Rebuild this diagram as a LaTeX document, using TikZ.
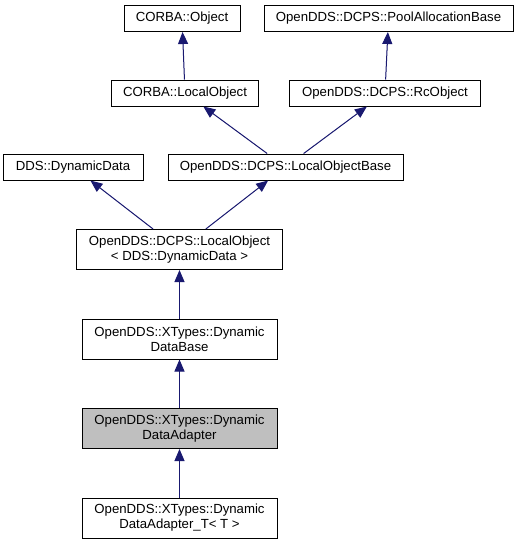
\documentclass[tikz,border=0pt]{standalone}
\usepackage{fontspec}
\setmainfont{Liberation Sans}
\usetikzlibrary{positioning, arrows.meta}
\definecolor{edge_blue}{RGB}{25,25,112}
\definecolor{self_grey}{RGB}{191,191,191}

\begin{document}
\begin{tikzpicture}[x=1pt, y=-1pt, >={Triangle[length=12pt, width=10pt]},
    classbox/.style={draw, rectangle, line width=1pt, align=center, inner sep=0pt,
        font=\fontsize{13.2}{15}\selectfont},
    inherit/.style={->, draw=edge_blue, fill=edge_blue, line width=1pt}]

    \useasboundingbox (0,0) rectangle (519,544);

    % --- Top row ---
    \node [classbox, minimum width=116pt, minimum height=26pt] (CorbaObject) at (182,18.5) {CORBA::Object};
    \node [classbox, minimum width=249pt, minimum height=26pt] (PoolAllocationBase) at (388.5,18.5) {OpenDDS::DCPS::PoolAllocationBase};

    % --- Second row ---
    \node [classbox, minimum width=147pt, minimum height=26pt] (CorbaLocalObject) at (185,93) {CORBA::LocalObject};
    \node [classbox, minimum width=191pt, minimum height=26pt] (RcObject) at (385,93) {OpenDDS::DCPS::RcObject};

    % --- Third row ---
    \node [classbox, minimum width=140pt, minimum height=26pt] (DynamicData) at (73,167) {DDS::DynamicData};
    \node [classbox, minimum width=235pt, minimum height=26pt] (LocalObjectBase) at (285.5,167) {OpenDDS::DCPS::LocalObjectBase};

    % --- Single column below ---
    \node [classbox, minimum width=206pt, minimum height=40pt] (LocalObject) at (179.5,249.5) {OpenDDS::DCPS::LocalObject\\ < DDS::DynamicData >};
    \node [classbox, minimum width=195pt, minimum height=40pt] (DynamicDataBase) at (179.5,339) {OpenDDS::XTypes::Dynamic\\DataBase};
    \node [classbox, minimum width=195pt, minimum height=40pt, fill=self_grey] (DynamicDataAdapter) at (179.5,428.5) {OpenDDS::XTypes::Dynamic\\DataAdapter};
    \node [classbox, minimum width=195pt, minimum height=40pt] (DynamicDataAdapterT) at (179.5,518) {OpenDDS::XTypes::Dynamic\\DataAdapter\_T< T >};

    % Connect the nodes.
    \draw[inherit] (CorbaLocalObject) -- (CorbaObject);
    \draw[inherit] (RcObject) -- (PoolAllocationBase);
    \draw[inherit] (LocalObjectBase) -- (CorbaLocalObject);
    \draw[inherit] (LocalObjectBase) -- (RcObject);
    \draw[inherit] (LocalObject) -- (DynamicData);
    \draw[inherit] (LocalObject) -- (LocalObjectBase);
    \draw[inherit] (DynamicDataBase) -- (LocalObject);
    \draw[inherit] (DynamicDataAdapter) -- (DynamicDataBase);
    \draw[inherit] (DynamicDataAdapterT) -- (DynamicDataAdapter);

\end{tikzpicture}
\end{document}
